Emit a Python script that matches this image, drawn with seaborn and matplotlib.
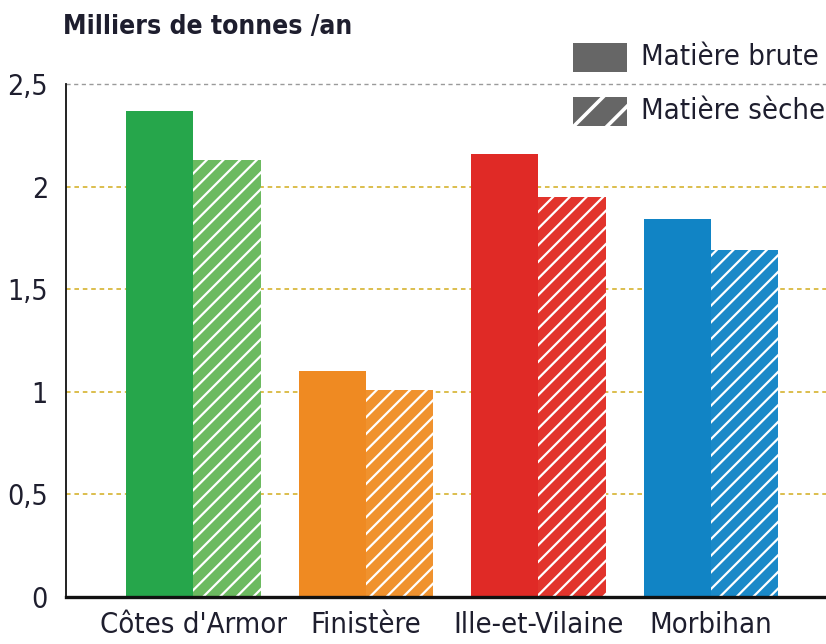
import matplotlib
matplotlib.use("Agg")
import matplotlib.pyplot as plt
from matplotlib import font_manager as fm
from matplotlib.patches import Rectangle
import seaborn as sns
import pandas as pd

# Données : production annuelle par département (milliers de tonnes)
departements = ["Côtes d'Armor", "Finistère", "Ille-et-Vilaine", "Morbihan"]
matiere_brute = [2.37, 1.10, 2.16, 1.84]
matiere_seche = [2.13, 1.01, 1.95, 1.69]
series = ["Matière brute", "Matière sèche"]
couleurs_brute = ["#26a64b", "#ef8a22", "#e02a26", "#1184c5"]
couleurs_seche = ["#6cba60", "#f0922e", "#e2342c", "#1a89c8"]
yticks = [0, 0.5, 1, 1.5, 2, 2.5]
ytick_labels = ["0", "0,5", "1", "1,5", "2", "2,5"]

sns.set_theme(style="white")
plt.rcParams["font.family"] = ["DejaVu Sans"]
plt.rcParams["hatch.linewidth"] = 1.6
TEXT = "#1e1e2e"


def police_etroite(gras=False):
    """Cherche une police condensée installée ; sinon DejaVu Sans."""
    for f in fm.fontManager.ttflist:
        nom = f.fname.lower()
        if ("condensed" in nom or "narrow" in nom) and "oblique" not in nom \
                and "italic" not in nom:
            if gras == ("bold" in nom):
                return fm.FontProperties(fname=f.fname)
    return fm.FontProperties(family="DejaVu Sans",
                             weight="bold" if gras else "normal")


fp = police_etroite()
fpb = police_etroite(gras=True)

df = pd.DataFrame({
    "departement": departements * 2,
    "valeur": matiere_brute + matiere_seche,
    "serie": [series[0]] * 4 + [series[1]] * 4,
})

W, H = 826, 644
fig = plt.figure(figsize=(W / 100, H / 100), dpi=100)
ax = fig.add_axes([66 / W, 1 - 597 / H, 760 / W, (597 - 84) / H])

sns.barplot(data=df, x="departement", y="valeur", hue="serie",
            hue_order=series, order=departements, width=0.78, gap=0,
            legend=False, ax=ax, zorder=3)

for bar, c in zip(ax.containers[0], couleurs_brute):
    bar.set_facecolor(c)
    bar.set_edgecolor(c)
    bar.set_linewidth(0)
for bar, c in zip(ax.containers[1], couleurs_seche):
    bar.set_facecolor(c)
    bar.set_edgecolor("white")
    bar.set_linewidth(0)
    bar.set_hatch("//")

ax.set_xlim(-0.739, 3.667)
ax.set_ylim(0, 2.5)
ax.set_yticks(yticks)
ax.set_yticklabels(ytick_labels)
ax.set_xlabel("")
ax.set_ylabel("")

# grille pointillée : jaune pour les valeurs intermédiaires, grise en haut
for v in yticks[1:-1]:
    ax.axhline(v, color="#d2ac1c", lw=1.1, ls=(0, (3, 2.5)), zorder=1)
ax.axhline(2.5, color="#9a9a9a", lw=1.0, ls=(0, (3, 2.5)), zorder=1, clip_on=False)

for s in ["top", "right"]:
    ax.spines[s].set_visible(False)
ax.spines["left"].set_color("#111111")
ax.spines["left"].set_linewidth(1.3)
ax.spines["bottom"].set_color("#111111")
ax.spines["bottom"].set_linewidth(2.4)
ax.spines["left"].set_zorder(4)
ax.spines["bottom"].set_zorder(4)

ax.tick_params(axis="both", length=0, colors=TEXT)
ax.tick_params(axis="y", pad=13)
ax.tick_params(axis="x", pad=10)
for lab in ax.get_xticklabels():
    lab.set_fontproperties(fp)
    lab.set_fontsize(21)
    lab.set_color(TEXT)
for lab in ax.get_yticklabels():
    lab.set_fontproperties(fp)
    lab.set_fontsize(20.5)
    lab.set_color(TEXT)

fig.text(63 / W, 1 - 27 / H, "Milliers de tonnes /an", fontproperties=fpb,
         fontsize=19, color=TEXT, ha="left", va="center")

# légende
fig.patches.append(Rectangle((573 / W, 1 - 72 / H), 54 / W, 29 / H,
                             transform=fig.transFigure, facecolor="#666666",
                             edgecolor="#666666", lw=0))
with plt.rc_context({"hatch.linewidth": 2.6}):
    leg_h = Rectangle((573 / W, 1 - 126 / H), 54 / W, 29 / H,
                      transform=fig.transFigure, facecolor="#666666",
                      edgecolor="white", lw=0, hatch="/")
fig.patches.append(leg_h)
for texte, yc in zip(series, [57, 111]):
    fig.text(641 / W, 1 - yc / H, texte, fontproperties=fp, fontsize=21,
             color=TEXT, ha="left", va="center")

fig.savefig("out.png", dpi=100)
